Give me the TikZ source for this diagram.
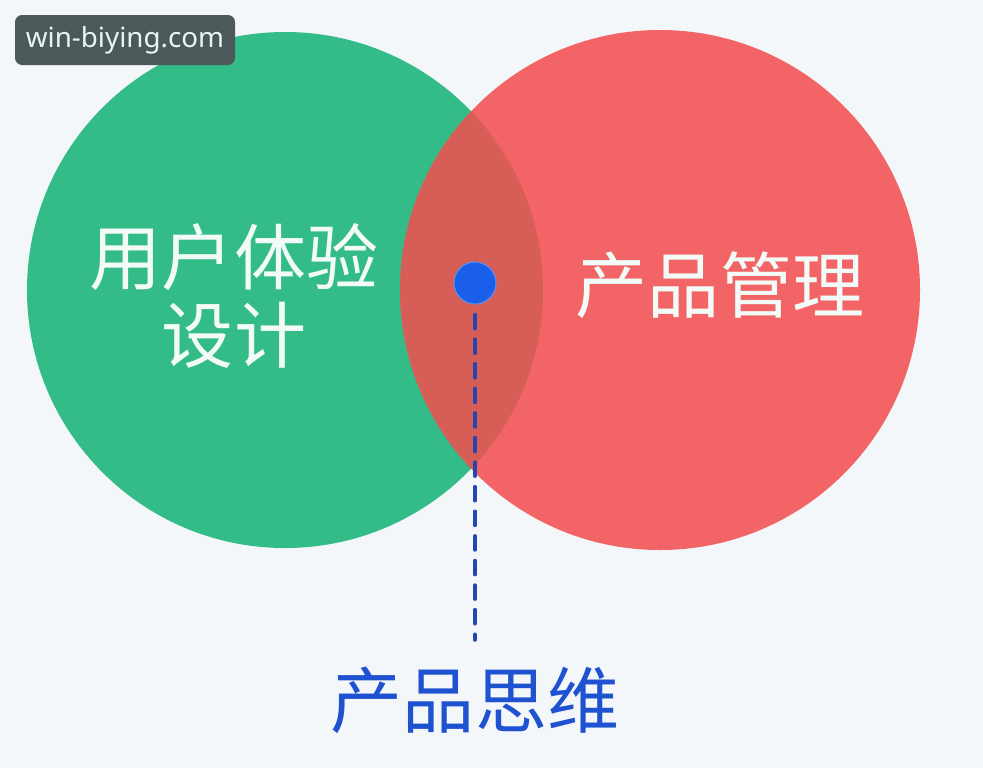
\documentclass[tikz,border=0pt]{standalone}
\usepackage{fontspec}
\setmainfont{Noto Sans}
\newfontfamily\cjk{Noto Sans CJK SC}
\usepackage{xcolor}
\definecolor{bgpaper}{HTML}{F4F7FA}
\definecolor{venngreen}{HTML}{33BB88}
\definecolor{vennred}{HTML}{F26466}
\definecolor{vennmix}{HTML}{D65E56}
\definecolor{dotblue}{HTML}{1A5FEA}
\definecolor{dashblue}{HTML}{2545B0}
\definecolor{labelblue}{HTML}{1F52D0}
\definecolor{markgray}{HTML}{4D585B}
\definecolor{marktext}{HTML}{E4F6F6}

\begin{document}
\begin{tikzpicture}[x=0.02cm,y=-0.02cm,
  bigtext/.style={font=\cjk\fontsize{41}{44}\selectfont,align=center,inner sep=0pt},
  venntext/.style={bigtext,text=white!94!venngreen}]%
% paper
\fill[bgpaper] (0,0) rectangle (983,768);%
\useasboundingbox (0,0) rectangle (983,768);%
% the two sets
\fill[venngreen] (285,290) circle[radius=258];%
\fill[vennred] (660,290) circle[radius=260];%
\begin{scope}
\clip (285,290) circle[radius=258];%
\fill[vennmix] (660,290) circle[radius=260];%
\end{scope}
\node[venntext] (ux) at (234,296) {用户体验\\设计};%
\node[venntext] (pm) at (720,285) {产品管理};%
% where they meet
\node[circle,fill=dotblue,draw=dotblue!70!white,line width=0.6pt,minimum size=42*0.02cm,inner sep=0pt] (meet) at (475,283) {};%
\node[bigtext,text=labelblue] (think) at (475,700) {产品思维};%
\coordinate (dashend) at (475,640);%
\draw[dashblue,line width=2pt,dash pattern=on 8pt off 6pt,line cap=round] (meet.south) ++(0,10) -- (dashend);%
% site mark
\node[fill=markgray,rounded corners=4pt,text=marktext,font=\fontsize{15.8}{19}\selectfont,minimum width=220*0.02cm,minimum height=50*0.02cm,inner sep=0pt] (mark) at (125,40) {win-biying.com};%
\end{tikzpicture}
\end{document}
